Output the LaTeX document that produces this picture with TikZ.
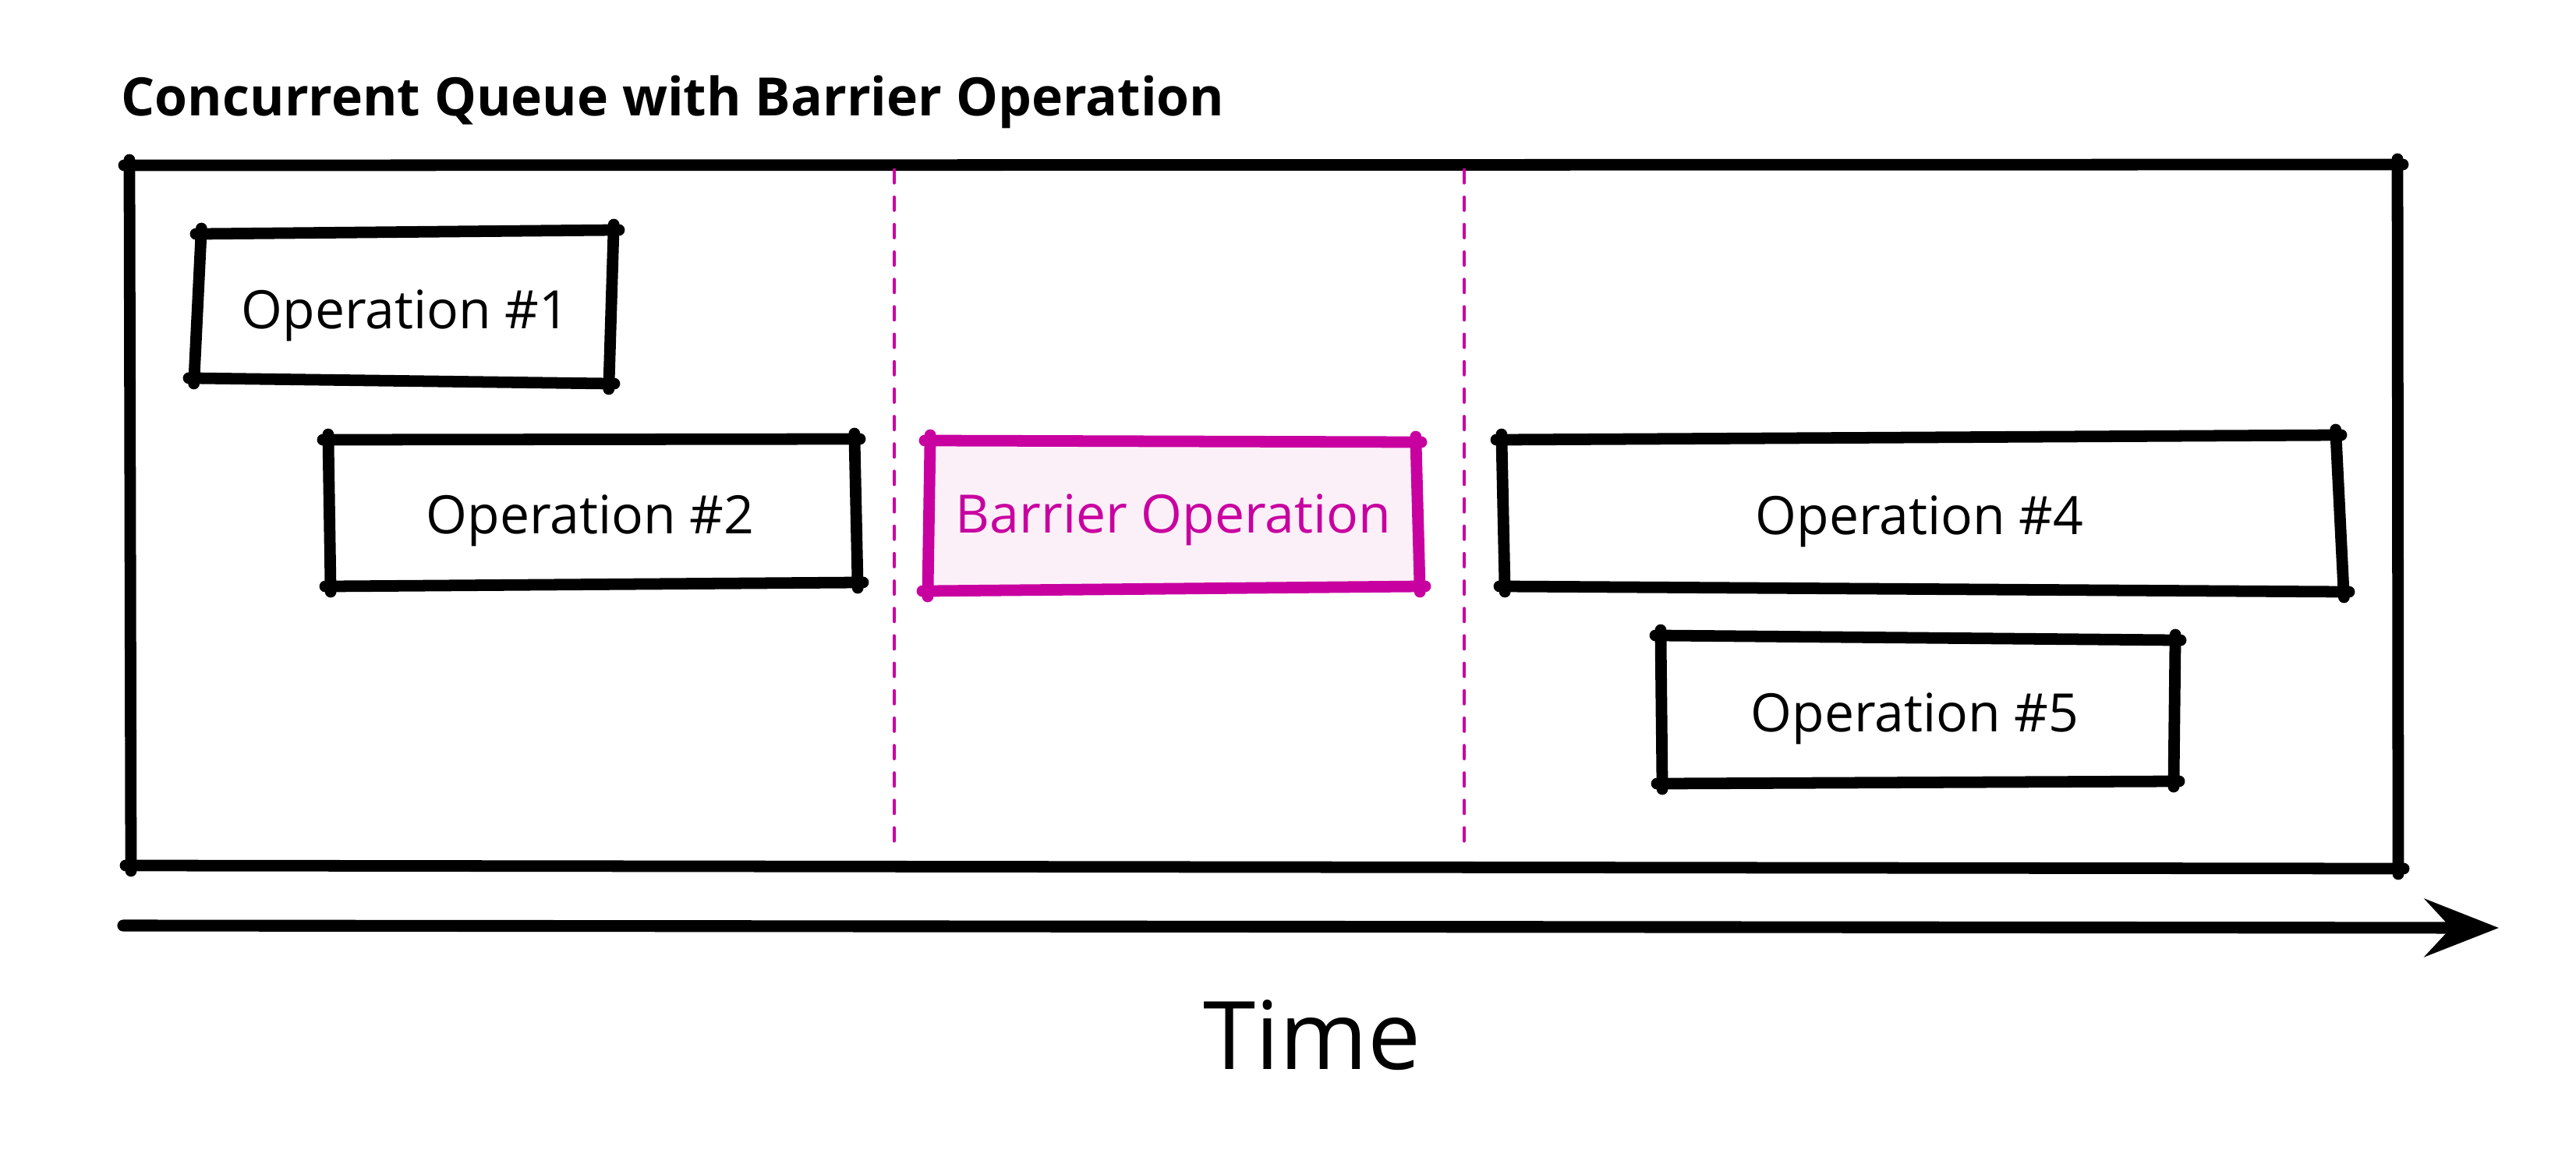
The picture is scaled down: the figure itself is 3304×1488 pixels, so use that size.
\documentclass[tikz,border=0pt]{standalone}
\usepackage{fontspec}
\setmainfont{Open Sans}
\usetikzlibrary{arrows.meta}
\definecolor{barmag}{RGB}{200,0,160}
\definecolor{barfill}{RGB}{252,240,248}
\tikzset{
  edge/.style={line width=4.2pt, line cap=round, shorten <=-0.07cm, shorten >=-0.07cm},
  baredge/.style={edge, draw=barmag},
  optext/.style={inner sep=0pt, anchor=base, font=\fontsize{19.3pt}{23pt}\selectfont},
  bartext/.style={optext, text=barmag},
  divider/.style={draw=barmag, line width=1.4pt, line cap=round, dash pattern=on 4.6pt off 5.4pt},
  timearrow/.style={line width=4.3pt, line cap=round, -{Stealth[length=27pt, width=21pt, inset=9.6pt]}}
}
\newcommand\skbox[5]{%
  \draw[#1] (#2) -- (#3);
  \draw[#1] (#3) -- (#4);
  \draw[#1] (#4) -- (#5);
  \draw[#1] (#5) -- (#2);}
\begin{document}
\begin{tikzpicture}[x=0.01cm, y=-0.01cm]
\useasboundingbox[fill=white] (0,0) rectangle (3304,1488);

% title
\node[inner sep=0pt, anchor=base west, font=\fontsize{19.3pt}{23pt}\selectfont\bfseries] (title) at (155,149) {Concurrent Queue with Barrier Operation};

% outer frame
\coordinate (o1) at (166,212);
\coordinate (o2) at (3075,211);
\coordinate (o3) at (3076,1114);
\coordinate (o4) at (168,1110);
\skbox{edge}{o1}{o2}{o3}{o4}

% dividers
\coordinate (d1a) at (1147,218);
\coordinate (d1b) at (1147,1085);
\coordinate (d2a) at (1878,218);
\coordinate (d2b) at (1878,1085);
\draw[divider] (d1a) -- (d1b);
\draw[divider] (d2a) -- (d2b);

% operation 1
\coordinate (a1) at (258,300);
\coordinate (a2) at (787,295);
\coordinate (a3) at (781,492);
\coordinate (a4) at (249,485);
\skbox{edge}{a1}{a2}{a3}{a4}
\node[optext] (op1) at (520,421) {Operation \#1};

% operation 2
\coordinate (b1) at (421,564);
\coordinate (b2) at (1096,563);
\coordinate (b3) at (1100,747);
\coordinate (b4) at (424,752);
\skbox{edge}{b1}{b2}{b3}{b4}
\node[optext] (op2) at (757,684) {Operation \#2};

% barrier
\coordinate (c1) at (1193,565);
\coordinate (c2) at (1816,567);
\coordinate (c3) at (1821,752);
\coordinate (c4) at (1190,758);
\fill[barfill] (c1) -- (c2) -- (c3) -- (c4) -- cycle;
\skbox{baredge}{c1}{c2}{c3}{c4}
\node[bartext] (bar) at (1505,683) {Barrier Operation};

% operation 4
\coordinate (e1) at (1926,564);
\coordinate (e2) at (2996,558);
\coordinate (e3) at (3006,759);
\coordinate (e4) at (1930,752);
\skbox{edge}{e1}{e2}{e3}{e4}
\node[optext] (op4) at (2462,685) {Operation \#4};

% operation 5
\coordinate (f1) at (2130,815);
\coordinate (f2) at (2790,821);
\coordinate (f3) at (2788,1002);
\coordinate (f4) at (2132,1005);
\skbox{edge}{f1}{f2}{f3}{f4}
\node[optext] (op5) at (2456,938) {Operation \#5};

% time axis
\coordinate (t0) at (158,1187);
\coordinate (t1) at (3205,1190);
\draw[timearrow] (t0) -- (t1);
\node[inner sep=0pt, anchor=base, font=\fontsize{34.5pt}{40pt}\selectfont] (time) at (1683,1371) {Time};
\end{tikzpicture}
\end{document}
